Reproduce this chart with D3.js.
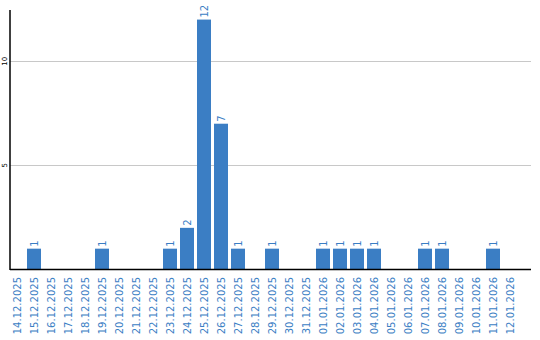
<!DOCTYPE html>
<html>
<head>
<meta charset="utf-8">
<script src="https://cdn.jsdelivr.net/npm/d3@7"></script>
<style>
  body { margin: 0; background: #fff; }
  text { font-family: "DejaVu Sans", Verdana, sans-serif; }
</style>
</head>
<body>
<svg width="540" height="340"></svg>
<script>
var width = 540,
    height = 340,
    margin = { top: 10, right: 9, bottom: 70.5, left: 10 }

var dates = ["14.12.2025", "15.12.2025", "16.12.2025", "17.12.2025", "18.12.2025", "19.12.2025",
    "20.12.2025", "21.12.2025", "22.12.2025", "23.12.2025", "24.12.2025", "25.12.2025",
    "26.12.2025", "27.12.2025", "28.12.2025", "29.12.2025", "30.12.2025", "31.12.2025",
    "01.01.2026", "02.01.2026", "03.01.2026", "04.01.2026", "05.01.2026", "06.01.2026",
    "07.01.2026", "08.01.2026", "09.01.2026", "10.01.2026", "11.01.2026", "12.01.2026"]
var counts = [0, 1, 0, 0, 0, 1, 0, 0, 0, 1, 2, 12, 7, 1, 0, 1, 0, 0, 1, 1, 1, 1, 0, 0, 1, 1, 0, 0, 1, 0]
var yTicks = [5, 10]

var blue = "#3b7ec4"
var svg = d3.select("svg")

var x = d3.scaleBand().domain(dates).range([10, 520]).padding(0)
var y = d3.scaleLinear().domain([0, 12.46]).range([269.5, 10])
var barW = x.bandwidth() * 14 / 17

// grid
svg.selectAll(".grid").data(yTicks).enter().append("line")
    .attr("x1", 10).attr("x2", 531)
    .attr("y1", d => Math.round(y(d)) + 0.5).attr("y2", d => Math.round(y(d)) + 0.5)
    .attr("stroke", "#c8c8c8").attr("stroke-width", 1)

// bars
var data = dates.map((d, i) => ({ date: d, v: counts[i] }))
svg.selectAll(".bar").data(data.filter(d => d.v > 0)).enter().append("rect")
    .attr("x", d => x(d.date))
    .attr("y", d => y(d.v))
    .attr("width", barW)
    .attr("height", d => y(0) - y(d.v))
    .attr("fill", blue)

// value labels
svg.selectAll(".val").data(data.filter(d => d.v > 0)).enter().append("text")
    .attr("transform", d => "translate(" + (x(d.date) + barW / 2 + 4) + "," + (y(d.v) - 2) + ") rotate(-90)")
    .attr("font-size", 10)
    .attr("fill", blue)
    .text(d => d.v)

// axes lines
svg.append("line").attr("x1", 10).attr("x2", 10).attr("y1", 10).attr("y2", 270)
    .attr("stroke", "#000").attr("stroke-width", 1.5)
svg.append("line").attr("x1", 10).attr("x2", 531).attr("y1", 269.5).attr("y2", 269.5)
    .attr("stroke", "#000").attr("stroke-width", 1.5)

// y tick labels
svg.selectAll(".ytick").data(yTicks).enter().append("text")
    .attr("transform", d => "translate(7," + y(d) + ") rotate(-90)")
    .attr("text-anchor", "middle")
    .attr("font-size", 7)
    .attr("fill", "#000")
    .text(d => d)

// x labels
svg.selectAll(".xlab").data(dates).enter().append("text")
    .attr("transform", d => "translate(" + (x(d) + barW / 2 + 4) + ",277) rotate(-90)")
    .attr("text-anchor", "end")
    .attr("font-size", 10)
    .attr("fill", blue)
    .text(d => d)
</script>
</body>
</html>
